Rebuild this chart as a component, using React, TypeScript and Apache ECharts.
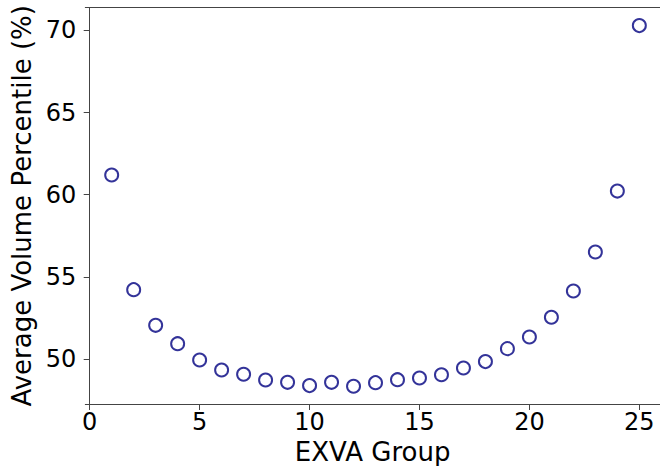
import React, { useEffect, useRef } from "react";
import * as echarts from "echarts";

const groups = [1, 2, 3, 4, 5, 6, 7, 8, 9, 10, 11, 12, 13, 14, 15, 16, 17, 18, 19, 20, 21, 22, 23, 24, 25];
const avgPercentile = [
  61.2, 54.22, 52.05, 50.93, 49.94, 49.33, 49.07, 48.72, 48.58, 48.38, 48.58, 48.34, 48.56,
  48.74, 48.84, 49.04, 49.45, 49.84, 50.63, 51.34, 52.54, 54.14, 56.51, 60.22, 70.29,
];
const xTicks = [0, 5, 10, 15, 20, 25];
const yTicks = [50, 55, 60, 65, 70];

export default function App() {
  const ref = useRef<HTMLDivElement>(null);
  useEffect(() => {
    if (!ref.current) return;
    const chart = echarts.init(ref.current, null, { renderer: "svg" });
    const font = "DejaVu Sans";
    const spine = { show: true, lineStyle: { color: "#444", width: 1 } };
    chart.setOption({
      animation: false,
      backgroundColor: "#ffffff",
      grid: { left: 85.3, top: 7.7, right: 0, bottom: 466 - 404, outerBoundsMode: "none", containLabel: false },
      xAxis: [
        {
          type: "value",
          min: -0.2,
          max: 25.94,
          name: "EXVA Group",
          nameLocation: "middle",
          nameGap: 29,
          nameTextStyle: { fontFamily: font, fontSize: 26, color: "#000" },
          axisLine: spine,
          axisTick: { show: true, length: 6, lineStyle: { color: "#444" }, customValues: xTicks },
          axisLabel: { customValues: xTicks, fontFamily: font, fontSize: 24, color: "#000", margin: 6 },
          splitLine: { show: false },
        },
        {
          type: "value",
          position: "top",
          min: -0.2,
          max: 25.94,
          axisLine: spine,
          axisTick: { show: false },
          axisLabel: { show: false },
          splitLine: { show: false },
        },
      ],
      yAxis: {
        type: "value",
        min: 47.26,
        max: 71.38,
        name: "Average Volume Percentile (%)",
        nameLocation: "middle",
        nameGap: 49,
        nameTextStyle: { fontFamily: font, fontSize: 26, color: "#000" },
        axisLine: spine,
        axisTick: { show: true, length: 6, lineStyle: { color: "#444" }, customValues: yTicks },
        axisLabel: { customValues: yTicks, fontFamily: font, fontSize: 24, color: "#000", margin: 9 },
        splitLine: { show: false },
      },
      series: [
        {
          type: "scatter",
          xAxisIndex: 0,
          data: groups.map((g, i) => [g, avgPercentile[i]]),
          symbol: "circle",
          symbolSize: 13,
          itemStyle: { color: "transparent", borderColor: "#000080", borderWidth: 2 },
        },
      ],
    });
    return () => chart.dispose();
  }, []);
  return (
    <div
      ref={ref}
      style={{ position: "fixed", left: 0, top: 0, width: 660, height: 466, background: "#fff" }}
    />
  );
}
